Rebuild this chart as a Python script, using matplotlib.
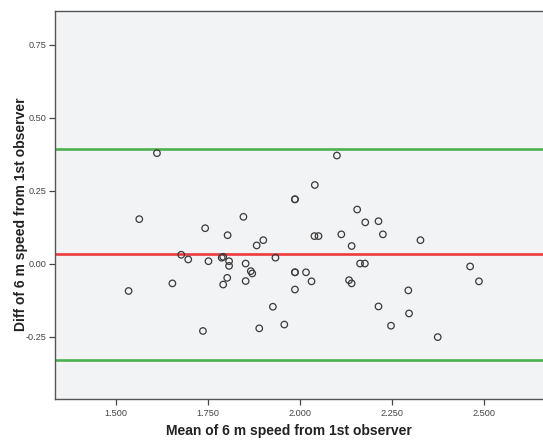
import matplotlib
matplotlib.use("Agg")
import matplotlib.pyplot as plt

# Bland-Altman style data: mean vs difference of 6 m speed (1st observer)
mean_speed = [
    1.534, 1.563, 1.611, 1.653, 1.677, 1.696, 1.736, 1.742, 1.751, 1.787,
    1.791, 1.791, 1.802, 1.803, 1.807, 1.807, 1.846, 1.852, 1.852, 1.866,
    1.870, 1.882, 1.889, 1.900, 1.926, 1.933, 1.957, 1.986, 1.986, 1.986,
    1.986, 1.986, 2.016, 2.031, 2.039, 2.040, 2.050, 2.100, 2.112, 2.133,
    2.140, 2.140, 2.155, 2.163, 2.176, 2.177, 2.213, 2.213, 2.225, 2.247,
    2.294, 2.296, 2.327, 2.374, 2.462, 2.486,
]
diff_speed = [
    -0.093, 0.153, 0.379, -0.067, 0.031, 0.015, -0.230, 0.122, 0.009, 0.021,
    0.024, -0.071, -0.048, 0.098, 0.009, -0.007, 0.161, 0.001, -0.059, -0.025,
    -0.033, 0.063, -0.221, 0.081, -0.147, 0.021, -0.208, 0.221, 0.221, -0.029,
    -0.029, -0.088, -0.029, -0.060, 0.095, 0.270, 0.095, 0.371, 0.101, -0.056,
    0.061, -0.067, 0.186, 0.001, 0.001, 0.142, 0.146, -0.146, 0.101, -0.212,
    -0.091, -0.170, 0.081, -0.251, -0.009, -0.060,
]

mean_diff = 0.033
upper_loa = 0.394
lower_loa = -0.329

x_ticks = [1.5, 1.75, 2.0, 2.25, 2.5]
x_tick_labels = ["1.500", "1.750", "2.000", "2.250", "2.500"]
y_ticks = [-0.25, 0.0, 0.25, 0.5, 0.75]
y_tick_labels = ["-0.25", "0.00", "0.25", "0.50", "0.75"]

plt.rcParams["font.family"] = ["Liberation Sans", "DejaVu Sans"]

W, H = 543, 440
fig = plt.figure(figsize=(W / 100, H / 100), dpi=100)
ax = fig.add_axes([55 / W, (H - 399) / H, (W - 55) / W, (399 - 11) / H])
ax.set_facecolor("#f2f3f5")

ax.axhline(upper_loa, color="#4cb04c", lw=1.9, zorder=2)
ax.axhline(lower_loa, color="#4cb04c", lw=1.9, zorder=2)
ax.axhline(mean_diff, color="#ec3b3f", lw=1.9, zorder=2)

ax.scatter(mean_speed, diff_speed, s=22, facecolors="none",
           edgecolors="#3a3a3a", linewidths=0.9, zorder=3)

ax.set_xlim(1.334, 2.66)
ax.set_ylim(-0.463, 0.866)

ax.set_xticks(x_ticks)
ax.set_xticklabels(x_tick_labels)
ax.set_yticks(y_ticks)
ax.set_yticklabels(y_tick_labels)
ax.tick_params(axis="both", labelsize=6.6, colors="#444444", length=4,
               width=0.9, pad=2)
ax.tick_params(axis="x", pad=3)

for side in ["left", "bottom", "top"]:
    ax.spines[side].set_color("#555555")
    ax.spines[side].set_linewidth(1.0)
ax.spines["right"].set_visible(False)

fig.text(288.8 / W, 1 - 430.7 / H, "Mean of 6 m speed from 1st observer",
         ha="center", va="center", fontsize=10, fontweight="bold",
         color="#222222")
fig.text(21 / W, 1 - 214.5 / H, "Diff of 6 m speed from 1st observer",
         ha="center", va="center", rotation=90, fontsize=10,
         fontweight="bold", color="#222222")

fig.savefig("out.png", dpi=100)
